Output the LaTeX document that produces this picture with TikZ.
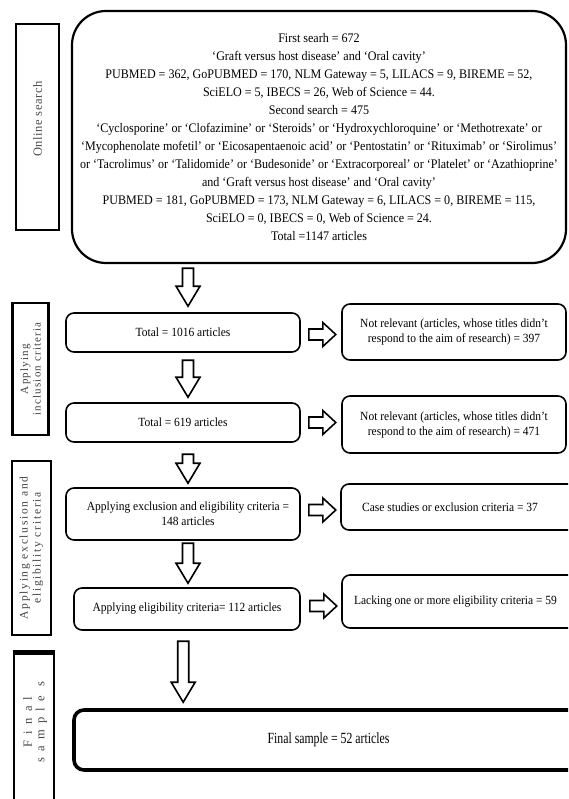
\documentclass[tikz,border=0pt]{standalone}
\usepackage{fontspec}
\setmainfont[FakeStretch=0.92]{Liberation Serif}
\newfontfamily\finalfont[FakeStretch=0.76]{Liberation Serif}
\newfontfamily\labfontA[LetterSpace=5]{Liberation Serif}
\newfontfamily\labfontB[LetterSpace=11]{Liberation Serif}
\newfontfamily\labfontC[LetterSpace=15]{Liberation Serif}
\newfontfamily\labfontD[LetterSpace=50]{Liberation Serif}
\usetikzlibrary{calc}
\tikzset{
  box/.style={draw, line width=1.6pt, rounded corners=8pt, align=center, inner sep=0pt,
    font=\fontsize{12.5}{15}\selectfont},
  labbox/.style={draw, line width=2.6pt, inner sep=0pt},
  labtext/.style={text=black!72, align=center},
  blockarrow/.style={draw, line width=1.6pt, fill=white, line join=miter},
  pics/downarr/.style={code={
    \path[blockarrow] (-5.5,0) -- (-5.5,#1-20) -- (-12,#1-20) -- (0,#1) -- (12,#1-20)
      -- (5.5,#1-20) -- (5.5,0) -- cycle;}},
  pics/rightarr/.style={code={
    \path[blockarrow] (0,-5.5) -- (14,-5.5) -- (14,-12) -- (27,0) -- (14,12) -- (14,5.5)
      -- (0,5.5) -- cycle;}},
}
\begin{document}
\begin{tikzpicture}[x=1pt,y=-1pt]
\useasboundingbox (0,0) rectangle (568,799);
\clip (0,0) rectangle (568,799);
\fill[white] (0,0) rectangle (568,799);

% ---------- labels ----------
\node[labbox, line width=2.2pt, rotate=90, minimum width=206pt, minimum height=43pt] (lab1) at (37.5,127)
  {\hspace*{16pt}\labfontA\fontsize{12.5}{14}\selectfont\color{black!70}Online search};
\node[labbox, rotate=90, minimum width=132pt, minimum height=36pt] (lab2) at (30.5,369)
  {\parbox{130pt}{\centering\labfontB\fontsize{11}{12.5}\selectfont\color{black!75}Applying\\inclusion criteria}};
\node[labbox, rotate=90, minimum width=174pt, minimum height=39pt] (lab3) at (31.5,548)
  {\parbox{172pt}{\centering\labfontC\fontsize{11.5}{13}\selectfont\color{black!75}Applying exclusion and\\eligibility criteria}};
\node[labbox, minimum width=40pt, minimum height=165pt] (lab4) at (34,736) {};
\draw[line width=4.5pt] (lab4.north west) -- (lab4.north east);
\node[labtext, rotate=90, inner sep=0pt] (lab4t) at (35,722)
  {\parbox{120pt}{\centering\labfontD\fontsize{12.5}{12.5}\selectfont Final\\sample s}};

% ---------- big box ----------
\node[box, line width=2.2pt, rounded corners=34pt, minimum width=494pt, minimum height=252pt,
  font=\fontsize{13.1}{18.05}\selectfont] (big) at (319,137) {First searh = 672\\
‘Graft versus host disease’ and ‘Oral cavity’\\
PUBMED = 362, GoPUBMED = 170, NLM Gateway = 5, LILACS = 9, BIREME = 52,\\
SciELO = 5, IBECS = 26, Web of Science = 44.\\
Second search = 475\\
‘Cyclosporine’ or ‘Clofazimine’ or ‘Steroids’ or ‘Hydroxychloroquine’ or ‘Methotrexate’ or\\
‘Mycophenolate mofetil’ or ‘Eicosapentaenoic acid’ or ‘Pentostatin’ or ‘Rituximab’ or ‘Sirolimus’\\
or ‘Tacrolimus’ or ‘Talidomide’ or ‘Budesonide’ or ‘Extracorporeal’ or ‘Platelet’ or ‘Azathioprine’\\
and ‘Graft versus host disease’ and ‘Oral cavity’\\
PUBMED = 181, GoPUBMED = 173, NLM Gateway = 6, LILACS = 0, BIREME = 115,\\
SciELO = 0, IBECS = 0, Web of Science = 24.\\
Total =1147 articles};

% ---------- left column ----------
\node[box, minimum width=234pt, minimum height=39pt] (A) at (183,332.5) {Total = 1016 articles};
\node[box, minimum width=234pt, minimum height=39pt] (B) at (183,422.5) {Total = 619 articles};
\node[box, minimum width=234pt, minimum height=52pt] (C) at (183,514)
  {\hspace*{10pt}Applying exclusion and eligibility criteria =\\\hspace*{10pt}148 articles};
\node[box, minimum width=226pt, minimum height=42pt] (D) at (187,609)
  {Applying eligibility criteria= 112 articles};
\node[box, line width=3.6pt, rounded corners=10pt, minimum width=516pt, minimum height=60pt] (F) at (332,740)
  {\hspace*{-7pt}\finalfont\fontsize{15.5}{17}\selectfont Final sample = 52 articles};

% ---------- right column ----------
\node[box, minimum width=224pt, minimum height=56pt] (R1) at (454,332)
  {Not relevant (articles, whose titles didn’t\\respond to the aim of research) = 397};
\node[box, minimum width=224pt, minimum height=57pt] (R2) at (454,424.5)
  {Not relevant (articles, whose titles didn’t\\respond to the aim of research) = 471};
\node[box, minimum width=240pt, minimum height=46pt] (R3) at (461,507)
  {\hspace*{-22pt}Case studies or exclusion criteria = 37};
\node[box, minimum width=240pt, minimum height=53pt] (R4) at (462,601.5)
  {\hspace*{-13pt}Lacking one or more eligibility criteria = 59};

% ---------- block arrows ----------
\pic at ($(A.north)+(5,-44)$) {downarr=38};
\pic at ($(B.north)+(5,-42)$) {downarr=37};
\pic at ($(C.north)+(5,-33)$) {downarr=29};
\pic at ($(D.north)+(1,-44)$) {downarr=40};
\pic at ($(F.north west)+(111,-67)$) {downarr=61};

\pic at ($(A.east)+(8,2)$) {rightarr};
\pic at ($(B.east)+(8,0)$) {rightarr};
\pic at ($(C.east)+(8,-4)$) {rightarr};
\pic at ($(D.east)+(9,-3)$) {rightarr};
\end{tikzpicture}
\end{document}
